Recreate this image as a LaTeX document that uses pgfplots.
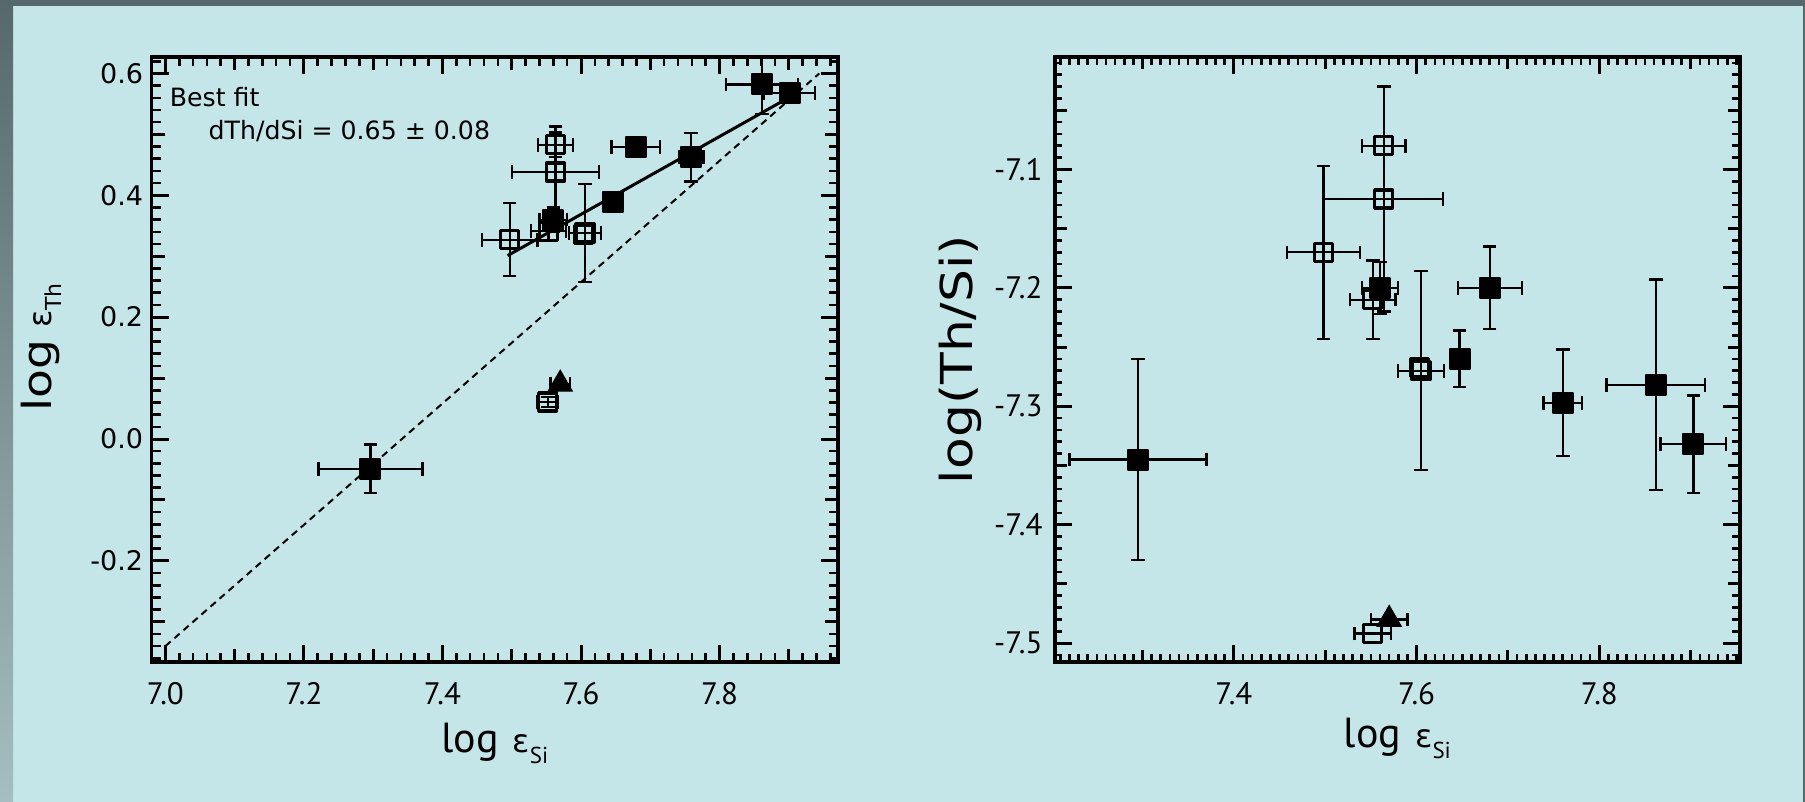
\documentclass[border=0pt]{standalone}
\usepackage{pgfplots}
\pgfplotsset{compat=1.18}
\usepackage{pgfplotstable}
\usepackage{fontspec}
\setmainfont{DejaVu Sans}
\newfontfamily\dv{DejaVu Sans}
\newfontfamily\dvwide[FakeStretch=1.18]{DejaVu Sans}
\newfontfamily\gill{PT Sans}

\definecolor{slide}{HTML}{C4E6E8}
\definecolor{frame}{HTML}{56686B}
\definecolor{framelight}{HTML}{A6BEC1}

% log eps(Si), log eps(Th) with errors
\pgfplotstableread{
x y ex ey
7.296 -0.049 0.075 0.040
7.560 0.360 0.020 0.020
7.646 0.389 0.010 0.012
7.679 0.479 0.035 0.010
7.759 0.4625 0.018 0.040
7.861 0.582 0.052 0.048
7.901 0.568 0.037 0.012
}\thFilled
\pgfplotstableread{
x y ex ey
7.497 0.327 0.040 0.060
7.553 0.341 0.025 0.015
7.563 0.483 0.025 0.020
7.563 0.438 0.063 0.075
7.606 0.338 0.023 0.080
7.552 0.061 0.015 0.008
}\thOpen
% second star sitting almost on top of (7.606, 0.338)
\pgfplotstableread{
x y
7.6035 0.3355
}\thOpenTwin
\pgfplotstableread{
x y ex ey
7.570 0.090 0.014 0.0
}\thTri

% log eps(Si), log(Th/Si) with errors
\pgfplotstableread{
x y ex ey
7.295 -7.345 0.075 0.085
7.560 -7.200 0.020 0.022
7.647 -7.260 0.010 0.024
7.680 -7.200 0.035 0.035
7.760 -7.297 0.021 0.045
7.862 -7.282 0.054 0.089
7.903 -7.332 0.036 0.041
}\ratFilled
\pgfplotstableread{
x y ex ey
7.498 -7.170 0.040 0.073
7.552 -7.210 0.025 0.033
7.564 -7.080 0.024 0.008
7.564 -7.125 0.065 0.095
7.605 -7.270 0.025 0.084
7.552 -7.492 0.020 0.0
}\ratOpen
\pgfplotstableread{
x y
7.6030 -7.2675
}\ratOpenTwin
\pgfplotstableread{
x y ex ey
7.570 -7.480 0.020 0.0
}\ratTri

\pgfplotsset{
  idl/.style={
    scale only axis,
    axis line style={line width=1.7pt},
    tick align=inside,
    xtick pos=both, ytick pos=both,
    major tick length=8.5pt,
    minor tick length=4.5pt,
    every tick/.style={black},
    major tick style={line width=1.5pt},
    minor tick style={line width=1.3pt},
    xticklabel style={inner sep=0pt, yshift=-10pt, font=\gill\fontsize{15.5}{16}\selectfont},
    extra x tick style={major tick length=6.5pt},
    extra y tick style={major tick length=6.5pt},
  },
  errs/.style={
    error bars/.cd,
      x dir=both, x explicit, y dir=both, y explicit,
      error bar style={line width=1.15pt, black},
      error mark options={rotate=90, line width=1.15pt, mark size=3.4pt, black},
  },
  filledpts/.style={only marks, mark=square*, mark size=5pt,
    mark options={fill=black, draw=black, line width=1pt, line join=round}, errs},
  openmark/.style={only marks, mark=square, mark size=4.5pt,
    mark options={fill=none, draw=black, line width=1.7pt, line join=round}},
  openpts/.style={openmark, errs},
  tripts/.style={only marks, mark=triangle*, mark size=7pt,
    mark options={fill=black, draw=black, line width=0.5pt}, errs},
}

\begin{document}
\begin{tikzpicture}
\fill[slide] (0pt,0pt) rectangle (902.5pt,401pt);
\shade[top color=frame, bottom color=framelight] (0pt,0pt) rectangle (6.5pt,401pt);
\fill[frame] (0pt,398pt) rectangle (902.5pt,401pt);
\fill[frame] (901.5pt,0pt) rectangle (902.5pt,401pt);

% absolute thorium against silicon
\begin{axis}[idl,
  at={(75.75pt,70pt)}, anchor=south west,
  width=343.25pt, height=302.5pt,
  xmin=6.98, xmax=7.971, ymin=-0.366, ymax=0.627,
  xtick={7.0,7.2,7.4,7.6,7.8}, xticklabels={7.0,7.2,7.4,7.6,7.8},
  ytick={-0.2,0,0.2,0.4,0.6}, yticklabels={-0.2,0.0,0.2,0.4,0.6},
  minor xtick={7.00,7.02,...,7.96},
  minor ytick={-0.36,-0.34,...,0.62},
  extra x ticks={7.1,7.3,7.5,7.7,7.9}, extra x tick labels={,,,,},
  extra y ticks={-0.3,-0.1,0.1,0.3,0.5}, extra y tick labels={,,,,},
  yticklabel style={inner sep=0pt, xshift=-4pt, font=\dv\fontsize{13.5}{14}\selectfont},
  xlabel={{\gill\fontsize{21}{21}\selectfont log}\hspace{7pt}{\dv\fontsize{16}{16}\selectfont ε}\raisebox{-5.5pt}{\gill\fontsize{11.5}{11.5}\selectfont Si}},
  xlabel style={at={(axis description cs:0.5,-0.1504)}, anchor=base, inner sep=0pt},
  ylabel={{\dvwide\fontsize{20}{20}\selectfont log}\hspace{6pt}{\dv\fontsize{16}{16}\selectfont ε}\raisebox{-5pt}{\dv\fontsize{11}{11}\selectfont Th}},
  ylabel style={at={(axis description cs:-0.1450,0.52)}, anchor=base, inner sep=0pt},
]
\addplot[black, line width=1pt, dash pattern=on 3.5pt off 2.5pt] coordinates {(7.0,-0.340) (7.944,0.600)};
\addplot[black, line width=1.5pt] coordinates {(7.494,0.301) (7.901,0.561)};
\addplot[openpts] table[x=x, y=y, x error=ex, y error=ey] {\thOpen};
\addplot[openmark] table[x=x, y=y] {\thOpenTwin};
\addplot[filledpts] table[x=x, y=y, x error=ex, y error=ey] {\thFilled};
\addplot[tripts] table[x=x, y=y, x error=ex, y error=ey] {\thTri};
\node[anchor=base west, inner sep=0pt, font=\dv\fontsize{12.6}{13}\selectfont] at (axis cs:7.006,0.546) {Best fit};
\node[anchor=base west, inner sep=0pt, font=\dv\fontsize{12.6}{13}\selectfont] at (axis cs:7.062,0.4916) {dTh/dSi = 0.65 ± 0.08};
\end{axis}

% thorium to silicon ratio against silicon
\begin{axis}[idl,
  at={(527.4pt,70pt)}, anchor=south west,
  width=342.6pt, height=302.5pt,
  xmin=7.204, xmax=7.954, ymin=-7.516, ymax=-7.005,
  minor tick length=3.8pt,
  xtick={7.4,7.6,7.8}, xticklabels={7.4,7.6,7.8},
  ytick={-7.5,-7.4,-7.3,-7.2,-7.1}, yticklabels={-7.5,-7.4,-7.3,-7.2,-7.1},
  minor xtick={7.21,7.22,...,7.95},
  minor ytick={-7.51,-7.50,...,-7.01},
  extra x ticks={7.3,7.5,7.7,7.9}, extra x tick labels={,,,},
  extra y ticks={-7.45,-7.35,-7.25,-7.15,-7.05}, extra y tick labels={,,,,},
  extra x tick style={major tick length=6pt},
  extra y tick style={major tick length=6pt},
  yticklabel style={inner sep=0pt, xshift=-6pt, font=\gill\fontsize{15.5}{16}\selectfont},
  xlabel={{\gill\fontsize{21}{21}\selectfont log}\hspace{7pt}{\dv\fontsize{16}{16}\selectfont ε}\raisebox{-5.5pt}{\gill\fontsize{11.5}{11.5}\selectfont Si}},
  xlabel style={at={(axis description cs:0.5,-0.1421)}, anchor=base, inner sep=0pt},
  ylabel={\dvwide\fontsize{22}{22}\selectfont log(Th/Si)},
  ylabel style={at={(axis description cs:-0.1194,0.5)}, anchor=base, inner sep=0pt},
]
\addplot[openpts] table[x=x, y=y, x error=ex, y error=ey] {\ratOpen};
\addplot[openmark] table[x=x, y=y] {\ratOpenTwin};
\addplot[filledpts] table[x=x, y=y, x error=ex, y error=ey] {\ratFilled};
\addplot[tripts] table[x=x, y=y, x error=ex, y error=ey] {\ratTri};
\end{axis}

\pgfresetboundingbox
\useasboundingbox (0pt,0pt) rectangle (902.5pt,401pt);
\end{tikzpicture}
\end{document}
